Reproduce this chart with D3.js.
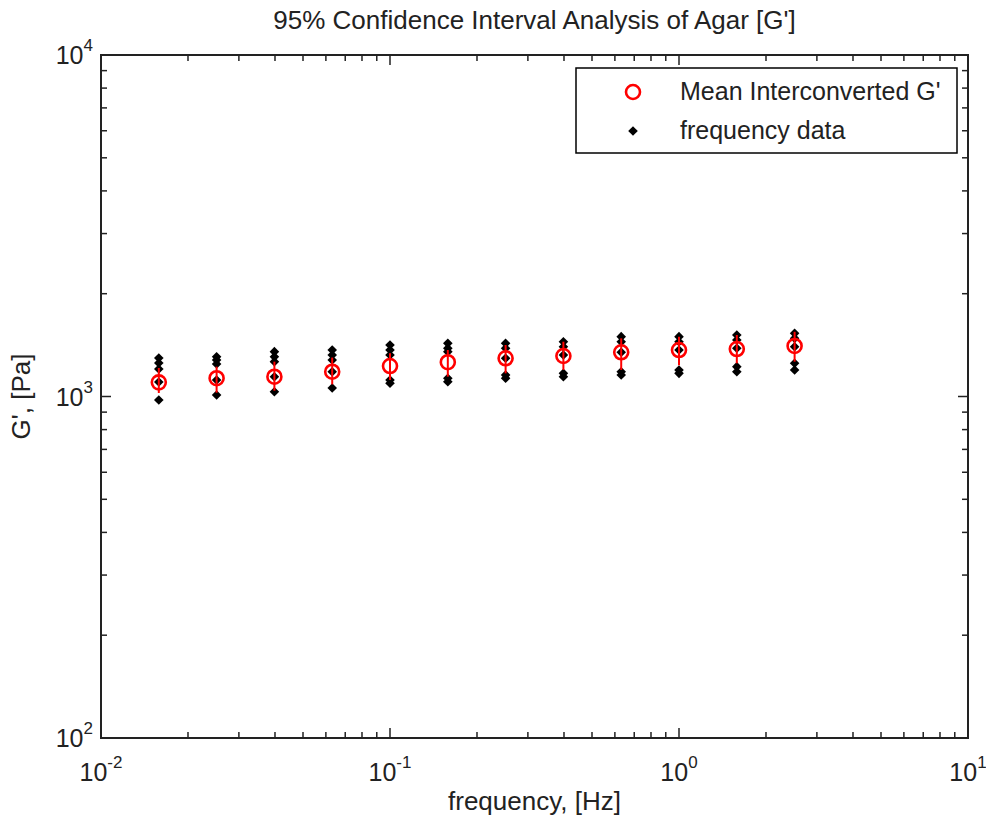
<!DOCTYPE html>
<html>
<head>
<meta charset="utf-8">
<script src="https://cdn.jsdelivr.net/npm/d3@7.9.0/dist/d3.min.js"></script>
<style>
  html, body { margin: 0; padding: 0; background: #fff; }
  svg text { font-family: "Liberation Sans", Arial, Helvetica, sans-serif; fill: #222; }
</style>
</head>
<body>
<svg id="chart" width="986" height="820"></svg>
<script>
// frequencies (Hz)
const freqs = [0.01585, 0.02512, 0.03981, 0.06310, 0.1, 0.1585, 0.2512, 0.3981, 0.6310, 1.0, 1.585, 2.512];

// mean interconverted G' (Pa)
const meanG = [1100, 1131, 1143, 1182, 1228, 1260, 1294, 1314, 1347, 1368, 1377, 1406];

// 95% confidence bounds (Pa)
const ciLow  = [1024, 1026, 1040, 1085, 1118, 1143, 1169, 1196, 1196, 1234, 1251, 1265];
const ciHigh = [1212, 1223, 1265, 1300, 1338, 1368, 1415, 1447, 1480, 1497, 1514, 1547];

// raw frequency data samples (Pa), one row per frequency
const samples = [
  [1296, 1253, 1204, 1103, 977],
  [1308, 1279, 1245, 1118, 1010],
  [1353, 1308, 1265, 1143, 1033],
  [1368, 1323, 1279, 1182, 1059],
  [1415, 1368, 1323, 1118, 1093],
  [1431, 1384, 1353, 1131, 1105],
  [1431, 1384, 1294, 1156, 1131],
  [1447, 1399, 1323, 1169, 1143],
  [1497, 1447, 1347, 1182, 1156],
  [1497, 1447, 1368, 1196, 1169],
  [1514, 1464, 1384, 1223, 1182],
  [1531, 1480, 1399, 1251, 1196]
];

const xDecades = [-2, -1, 0, 1];
const yDecades = [2, 3, 4];
const legendLabels = ["Mean Interconverted G'", "frequency data"];

const margin = { left: 101, right: 18, top: 55, bottom: 82 };
const W = 986, H = 820;

const svg = d3.select('#chart');

const x = d3.scaleLog().domain([1e-2, 1e1]).range([margin.left, W - margin.right]);
const y = d3.scaleLog().domain([1e2, 1e4]).range([H - margin.bottom, margin.top]);

const [x0, x1] = x.range();
const [y0, y1] = y.range(); // y0 bottom, y1 top

// minor + major ticks, drawn inward on all four sides
const axisColor = '#222';
const ticks = svg.append('g').attr('stroke', axisColor).attr('stroke-width', 1.5);

function minorValues(lo, hi) {
  const out = [];
  for (let e = lo; e < hi; e++) {
    for (let m = 2; m <= 9; m++) out.push(m * Math.pow(10, e));
  }
  return out;
}

const xMinor = minorValues(-2, 1);
const yMinor = minorValues(2, 4);
const majorLen = 10, minorLen = 6;

xDecades.map(e => Math.pow(10, e)).forEach(v => {
  ticks.append('line').attr('x1', x(v)).attr('x2', x(v)).attr('y1', y0).attr('y2', y0 - majorLen);
  ticks.append('line').attr('x1', x(v)).attr('x2', x(v)).attr('y1', y1).attr('y2', y1 + majorLen);
});
xMinor.forEach(v => {
  ticks.append('line').attr('x1', x(v)).attr('x2', x(v)).attr('y1', y0).attr('y2', y0 - minorLen);
  ticks.append('line').attr('x1', x(v)).attr('x2', x(v)).attr('y1', y1).attr('y2', y1 + minorLen);
});
yDecades.map(e => Math.pow(10, e)).forEach(v => {
  ticks.append('line').attr('y1', y(v)).attr('y2', y(v)).attr('x1', x0).attr('x2', x0 + majorLen);
  ticks.append('line').attr('y1', y(v)).attr('y2', y(v)).attr('x1', x1).attr('x2', x1 - majorLen);
});
yMinor.forEach(v => {
  ticks.append('line').attr('y1', y(v)).attr('y2', y(v)).attr('x1', x0).attr('x2', x0 + minorLen);
  ticks.append('line').attr('y1', y(v)).attr('y2', y(v)).attr('x1', x1).attr('x2', x1 - minorLen);
});

// frame
svg.append('rect')
  .attr('x', x0).attr('y', y1)
  .attr('width', x1 - x0).attr('height', y0 - y1)
  .attr('fill', 'none').attr('stroke', axisColor).attr('stroke-width', 2);

// tick labels: 10 with superscript exponent
const fs = 25, supFs = 17;

xDecades.forEach(e => {
  const t = svg.append('text')
    .attr('x', x(Math.pow(10, e)))
    .attr('y', 781)
    .attr('text-anchor', 'middle')
    .attr('font-size', fs);
  t.append('tspan').text('10');
  t.append('tspan').attr('font-size', supFs).attr('dy', -13).text(e);
});

yDecades.forEach(e => {
  const t = svg.append('text')
    .attr('x', 93)
    .attr('y', y(Math.pow(10, e)) + 9)
    .attr('text-anchor', 'end')
    .attr('font-size', fs);
  t.append('tspan').text('10');
  t.append('tspan').attr('font-size', supFs).attr('dy', -13).text(e);
});

// title + axis labels
svg.append('text')
  .attr('x', (x0 + x1) / 2).attr('y', 29)
  .attr('text-anchor', 'middle').attr('font-size', 26)
  .text("95% Confidence Interval Analysis of Agar [G']");

svg.append('text')
  .attr('x', (x0 + x1) / 2).attr('y', 810)
  .attr('text-anchor', 'middle').attr('font-size', 26)
  .text('frequency, [Hz]');

svg.append('text')
  .attr('transform', `translate(30,${(y0 + y1) / 2}) rotate(-90)`)
  .attr('text-anchor', 'middle').attr('font-size', 26)
  .text("G', [Pa]");

// data
const diamondPath = 'M0,-4.8L4.8,0L0,4.8L-4.8,0Z';
const plot = svg.append('g');

const pts = samples.flatMap((row, i) => row.map(v => ({ f: freqs[i], v })));
plot.selectAll('path.sample')
  .data(pts)
  .join('path')
  .attr('class', 'sample')
  .attr('d', diamondPath)
  .attr('transform', d => `translate(${x(d.f)},${y(d.v)})`)
  .attr('fill', '#000');

plot.selectAll('line.ci')
  .data(freqs)
  .join('line')
  .attr('class', 'ci')
  .attr('x1', d => x(d)).attr('x2', d => x(d))
  .attr('y1', (d, i) => y(ciLow[i])).attr('y2', (d, i) => y(ciHigh[i]))
  .attr('stroke', '#f00').attr('stroke-width', 2);

plot.selectAll('circle.mean')
  .data(freqs)
  .join('circle')
  .attr('class', 'mean')
  .attr('cx', d => x(d)).attr('cy', (d, i) => y(meanG[i]))
  .attr('r', 7)
  .attr('fill', 'none').attr('stroke', '#f00').attr('stroke-width', 2.6);

// legend
const lg = svg.append('g');
lg.append('rect')
  .attr('x', 576).attr('y', 68).attr('width', 381).attr('height', 85)
  .attr('fill', '#fff').attr('stroke', '#000').attr('stroke-width', 1.5);
lg.append('circle')
  .attr('cx', 633).attr('cy', 92).attr('r', 7)
  .attr('fill', 'none').attr('stroke', '#f00').attr('stroke-width', 2.6);
lg.append('path')
  .attr('d', diamondPath)
  .attr('transform', 'translate(633,131)')
  .attr('fill', '#000');
legendLabels.forEach((s, i) => {
  lg.append('text')
    .attr('x', 680).attr('y', 100 + i * 39)
    .attr('font-size', fs)
    .text(s);
});
</script>
</body>
</html>
